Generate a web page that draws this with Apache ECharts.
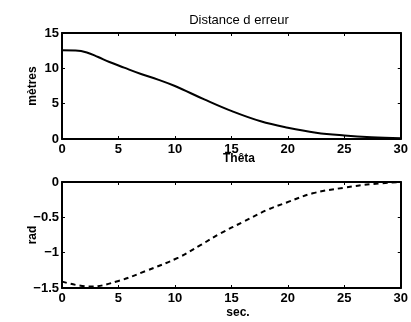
<!DOCTYPE html>
<html><head><meta charset="utf-8">
<script src="https://cdn.jsdelivr.net/npm/echarts@6/dist/echarts.min.js"></script>
<style>html,body{margin:0;padding:0;background:#fff}#c{width:411px;height:322px}</style>
</head><body><div id="c"></div>
<script>
const timeTop = [0, 1.2, 2.2, 3.2, 4.2, 5.5, 7, 8.5, 10, 12.6, 15.1, 17.6, 20, 22.5, 25, 27.4, 30];
const distance = [12.55, 12.52, 12.25, 11.6, 10.9, 10.1, 9.2, 8.4, 7.5, 5.6, 3.9, 2.5, 1.6, 0.9, 0.5, 0.25, 0.1];
const timeBot = [0, 2.5, 5, 7.4, 10.3, 12.3, 14, 16.1, 18.1, 19.9, 22.2, 25, 27.4, 30];
const theta = [-1.41, -1.48, -1.40, -1.26, -1.07, -0.89, -0.73, -0.56, -0.40, -0.29, -0.16, -0.08, -0.03, 0];
const titleTop = 'Distance d erreur';
const titleBot = 'Thêta';
const yNameTop = 'mètres';
const yNameBot = 'rad';
const xName = 'sec.';

const font = 'Liberation Sans, Arial, sans-serif';
const lbl = {color:'#000', fontFamily:font, fontWeight:'bold', fontSize:13};
function xAx(gi, showLabels){
  return {type:'value', gridIndex:gi, min:0, max:30, interval:5,
    axisLine:{show:true, onZero:false, lineStyle:{color:'#000', width:2}},
    axisTick:{show:true, inside:true, length:3, lineStyle:{color:'#000'}},
    axisLabel:Object.assign({show:showLabels, margin:4}, lbl),
    splitLine:{show:false}};
}
function xTop(gi){
  return {type:'value', gridIndex:gi, position:'top', min:0, max:30, interval:5,
    axisLine:{show:true, onZero:false, lineStyle:{color:'#000', width:2}},
    axisTick:{show:true, inside:true, length:3, lineStyle:{color:'#000'}},
    axisLabel:{show:false}, splitLine:{show:false}};
}
const chart = echarts.init(document.getElementById('c'));
chart.setOption({
  animation:false,
  backgroundColor:'#fff',
  title:[
    {text:titleTop, left:234, top:9, textAlign:'center', textStyle:{fontFamily:font, fontWeight:'normal', fontSize:13, color:'#000'}},
    {text:titleBot, left:234, top:148, textAlign:'center', textStyle:{fontFamily:font, fontWeight:'bold', fontSize:12, color:'#000'}},
    {text:xName, left:233, top:302, textAlign:'center', textStyle:{fontFamily:font, fontWeight:'bold', fontSize:12, color:'#000'}}
  ],
  grid:[
    {left:62, right:5, top:33, height:106},
    {left:62, right:5, top:182, height:106}
  ],
  xAxis:[xAx(0,true), xAx(1,true), xTop(0), xTop(1)],
  yAxis:[
    {type:'value', gridIndex:0, min:0, max:15, interval:5,
      name:yNameTop, nameLocation:'middle', nameGap:23, nameMoveOverlap:false, nameTextStyle:{fontFamily:font, fontWeight:'bold', fontSize:12, color:'#000'},
      axisLine:{show:true, onZero:false, lineStyle:{color:'#000', width:2}},
      axisTick:{show:true, inside:true, length:3, lineStyle:{color:'#000'}},
      axisLabel:Object.assign({margin:3}, lbl), splitLine:{show:false}},
    {type:'value', gridIndex:1, min:-1.5, max:0, interval:0.5,
      name:yNameBot, nameLocation:'middle', nameGap:23, nameMoveOverlap:false, nameTextStyle:{fontFamily:font, fontWeight:'bold', fontSize:12, color:'#000'},
      axisLine:{show:true, onZero:false, lineStyle:{color:'#000', width:2}},
      axisTick:{show:true, inside:true, length:3, lineStyle:{color:'#000'}},
      axisLabel:Object.assign({margin:3, formatter:v=>String(v).replace('-', '\u2212')}, lbl), splitLine:{show:false}},
    {type:'value', gridIndex:0, position:'right', min:0, max:15, interval:5,
      axisLine:{show:true, onZero:false, lineStyle:{color:'#000', width:2}},
      axisTick:{show:true, inside:true, length:3, lineStyle:{color:'#000'}},
      axisLabel:{show:false}, splitLine:{show:false}},
    {type:'value', gridIndex:1, position:'right', min:-1.5, max:0, interval:0.5,
      axisLine:{show:true, onZero:false, lineStyle:{color:'#000', width:2}},
      axisTick:{show:true, inside:true, length:3, lineStyle:{color:'#000'}},
      axisLabel:{show:false}, splitLine:{show:false}}
  ],
  series:[
    {type:'line', xAxisIndex:0, yAxisIndex:0, smooth:0.4, showSymbol:false,
      lineStyle:{color:'#000', width:2}, data:timeTop.map((t,i)=>[t, distance[i]])},
    {type:'line', xAxisIndex:1, yAxisIndex:1, smooth:0.4, showSymbol:false,
      lineStyle:{color:'#000', width:2, type:[5,4]}, data:timeBot.map((t,i)=>[t, theta[i]])}
  ]
});
</script></body></html>
